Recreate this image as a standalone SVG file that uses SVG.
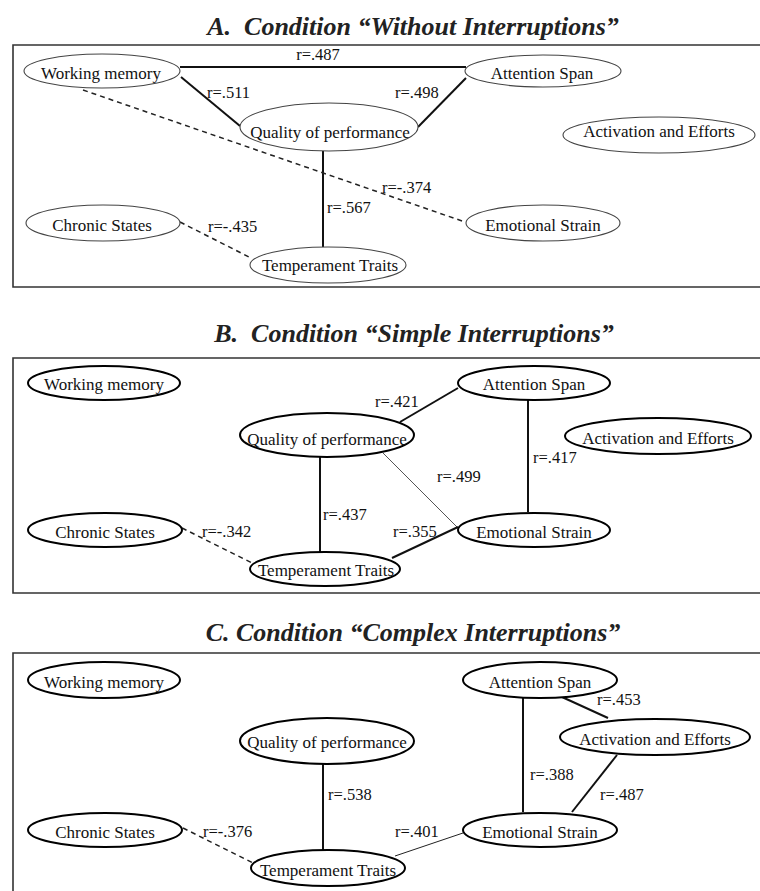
<svg xmlns="http://www.w3.org/2000/svg" width="760" height="891" viewBox="0 0 760 891">
<style>
.title{font-family:"Liberation Serif","Times New Roman",serif;font-style:italic;font-weight:bold;font-size:26px;fill:#222;text-anchor:middle}
.frame{fill:none;stroke:#333;stroke-width:1.6}
.na ellipse{fill:#fff;stroke:#444;stroke-width:1.1}
.nb ellipse{fill:#fff;stroke:#000;stroke-width:2}
text.n{font-family:"Liberation Serif","Times New Roman",serif;font-size:17px;fill:#111;text-anchor:middle}
.lbl{font-family:"Liberation Serif","Times New Roman",serif;font-size:16.5px;fill:#111}
.s{stroke:#111;stroke-width:2;fill:none}
.d{stroke:#222;stroke-width:1.5;stroke-dasharray:5 4;fill:none}
.t{stroke:#555;stroke-width:1;fill:none}
.t2{stroke:#222;stroke-width:1;fill:none}
</style>
<rect width="760" height="891" fill="#fff"/>

<text class="title" x="413" y="35">A.&#160; Condition “Without Interruptions”</text>
<text class="title" x="414" y="342">B.&#160; Condition “Simple Interruptions”</text>
<text class="title" x="413" y="641">C. Condition “Complex Interruptions”</text>

<path class="frame" d="M770 45 H13 V287 H770"/>
<path class="frame" d="M770 358 H13 V593 H770"/>
<path class="frame" d="M770 653 H13 V895"/>

<g id="connectors">
 <!-- A -->
 <line class="s" x1="180" y1="67" x2="466" y2="67"/>
 <line class="s" x1="181" y1="77" x2="240" y2="126"/>
 <line class="s" x1="466" y1="78" x2="418" y2="127"/>
 <line class="s" x1="323" y1="151" x2="323" y2="247"/>
 <line class="d" x1="83" y1="90" x2="465" y2="222"/>
 <line class="d" x1="180" y1="222" x2="251" y2="258"/>
 <!-- B -->
 <line class="s" x1="400" y1="422" x2="458" y2="388"/>
 <line class="s" x1="528" y1="400" x2="528" y2="512"/>
 <line class="t" x1="383" y1="453" x2="458" y2="528"/>
 <line class="s" x1="320" y1="457" x2="320" y2="552"/>
 <line class="s" x1="458" y1="527" x2="392" y2="558"/>
 <line class="d" x1="182" y1="528" x2="252" y2="563"/>
 <!-- C -->
 <line class="s" x1="562" y1="697" x2="608" y2="718"/>
 <line class="s" x1="523" y1="697" x2="523" y2="812"/>
 <line class="s" x1="617" y1="755" x2="572" y2="812"/>
 <line class="s" x1="323" y1="764" x2="323" y2="850"/>
 <line class="t2" x1="463" y1="833" x2="395" y2="856"/>
 <line class="d" x1="183" y1="828" x2="253" y2="863"/>
</g>

<g id="labels">
 <text class="lbl" x="318" y="60" text-anchor="middle">r=.487</text>
 <text class="lbl" x="207" y="98">r=.511</text>
 <text class="lbl" x="395" y="98">r=.498</text>
 <text class="lbl" x="327" y="213">r=.567</text>
 <text class="lbl" x="382" y="193">r=-.374</text>
 <text class="lbl" x="208" y="232">r=-.435</text>

 <text class="lbl" x="375" y="407">r=.421</text>
 <text class="lbl" x="533" y="463">r=.417</text>
 <text class="lbl" x="437" y="482">r=.499</text>
 <text class="lbl" x="323" y="520">r=.437</text>
 <text class="lbl" x="393" y="537">r=.355</text>
 <text class="lbl" x="202" y="537">r=-.342</text>

 <text class="lbl" x="597" y="705">r=.453</text>
 <text class="lbl" x="530" y="780">r=.388</text>
 <text class="lbl" x="600" y="800">r=.487</text>
 <text class="lbl" x="328" y="800">r=.538</text>
 <text class="lbl" x="395" y="837">r=.401</text>
 <text class="lbl" x="203" y="837">r=-.376</text>
</g>

<!-- Panel A nodes -->
<g id="a-working-memory" class="na"><ellipse cx="102" cy="71" rx="78" ry="17"/><text class="n" x="101" y="79">Working memory</text></g>
<g id="a-attention-span" class="na"><ellipse cx="543" cy="71" rx="78" ry="16"/><text class="n" x="542" y="79">Attention Span</text></g>
<g id="a-quality" class="na"><ellipse cx="329" cy="127" rx="89" ry="24"/><text class="n" x="330" y="138">Quality of performance</text></g>
<g id="a-activation" class="na"><ellipse cx="659" cy="135" rx="96" ry="18"/><text class="n" x="659" y="137">Activation and Efforts</text></g>
<g id="a-emotional" class="na"><ellipse cx="543" cy="223" rx="77" ry="18"/><text class="n" x="543" y="231">Emotional Strain</text></g>
<g id="a-chronic" class="na"><ellipse cx="103" cy="223" rx="77" ry="18"/><text class="n" x="102" y="231">Chronic States</text></g>
<g id="a-temperament" class="na"><ellipse cx="328" cy="265" rx="78" ry="18"/><text class="n" x="330" y="271">Temperament Traits</text></g>

<!-- Panel B nodes -->
<g id="b-working-memory" class="nb"><ellipse cx="104" cy="383" rx="76" ry="17"/><text class="n" x="104" y="390">Working memory</text></g>
<g id="b-attention-span" class="nb"><ellipse cx="534" cy="383" rx="76" ry="17"/><text class="n" x="534" y="390">Attention Span</text></g>
<g id="b-activation" class="nb"><ellipse cx="658" cy="436" rx="93" ry="18"/><text class="n" x="658" y="444">Activation and Efforts</text></g>
<g id="b-quality" class="nb"><ellipse cx="327" cy="435" rx="87" ry="22"/><text class="n" x="327" y="445">Quality of performance</text></g>
<g id="b-emotional" class="nb"><ellipse cx="534" cy="530" rx="76" ry="17"/><text class="n" x="534" y="538">Emotional Strain</text></g>
<g id="b-chronic" class="nb"><ellipse cx="105" cy="530" rx="77" ry="17"/><text class="n" x="105" y="538">Chronic States</text></g>
<g id="b-temperament" class="nb"><ellipse cx="325" cy="569" rx="75" ry="17"/><text class="n" x="326" y="576">Temperament Traits</text></g>

<!-- Panel C nodes -->
<g id="c-working-memory" class="nb"><ellipse cx="104" cy="680" rx="76" ry="18"/><text class="n" x="104" y="688">Working memory</text></g>
<g id="c-attention-span" class="nb"><ellipse cx="540" cy="680" rx="77" ry="18"/><text class="n" x="540" y="688">Attention Span</text></g>
<g id="c-activation" class="nb"><ellipse cx="655" cy="737" rx="95" ry="18"/><text class="n" x="655" y="745">Activation and Efforts</text></g>
<g id="c-quality" class="nb"><ellipse cx="327" cy="741" rx="87" ry="23"/><text class="n" x="327" y="748">Quality of performance</text></g>
<g id="c-emotional" class="nb"><ellipse cx="540" cy="830" rx="77" ry="17"/><text class="n" x="540" y="838">Emotional Strain</text></g>
<g id="c-chronic" class="nb"><ellipse cx="105" cy="830" rx="77" ry="17"/><text class="n" x="105" y="838">Chronic States</text></g>
<g id="c-temperament" class="nb"><ellipse cx="328" cy="868" rx="77" ry="18"/><text class="n" x="328" y="876">Temperament Traits</text></g>
</svg>
